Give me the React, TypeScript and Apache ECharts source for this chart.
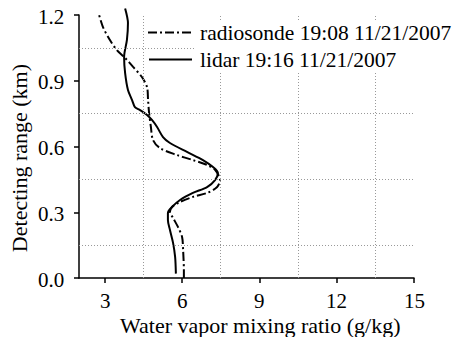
import React, { useEffect, useRef } from "react";
import * as echarts from "echarts";

const xTicks = [3, 6, 9, 12, 15];
const yTicks = [0, 0.3, 0.6, 0.9, 1.2];
const xGrid = [4.5, 7.5, 10.5, 13.5];
const yGrid = [0.15, 0.45, 0.75, 1.05];

const xTitle = "Water vapor mixing ratio (g/kg)";
const yTitle = "Detecting range (km)";
const radiosondeName = "radiosonde 19:08 11/21/2007";
const lidarName = "lidar 19:16 11/21/2007";

// [mixing ratio g/kg, height km]
const radiosonde: [number, number][] = [
  [6.07, 0.0], [6.07, 0.03], [6.04, 0.128], [6.0, 0.187], [5.84, 0.233], [5.65, 0.274],
  [5.53, 0.301], [5.61, 0.324], [5.92, 0.347], [6.42, 0.37], [6.97, 0.388],
  [7.36, 0.415], [7.47, 0.447], [7.28, 0.493], [6.97, 0.516], [6.42, 0.538],
  [5.8, 0.561], [5.14, 0.593], [4.87, 0.63], [4.79, 0.689], [4.72, 0.753],
  [4.68, 0.812], [4.64, 0.871], [4.44, 0.917], [4.1, 0.963], [3.79, 1.004],
  [3.47, 1.04], [3.2, 1.086], [2.93, 1.145], [2.78, 1.2],
];

const lidar: [number, number][] = [
  [5.76, 0.02], [5.73, 0.096], [5.65, 0.16], [5.53, 0.219], [5.45, 0.265],
  [5.45, 0.297], [5.61, 0.324], [5.92, 0.356], [6.42, 0.388], [6.97, 0.415],
  [7.28, 0.447], [7.39, 0.479], [7.2, 0.506], [6.81, 0.538], [6.19, 0.575],
  [5.53, 0.616], [5.26, 0.643], [5.03, 0.689], [4.83, 0.721], [4.64, 0.744],
  [4.37, 0.766], [4.17, 0.78], [4.06, 0.812], [3.9, 0.858], [3.79, 0.935],
  [3.75, 1.008], [3.86, 1.086], [3.9, 1.163], [3.79, 1.23],
];

const FONT = "Liberation Serif";
const DASHDOT = [9, 3, 2, 3];
const X_MIN = 2, X_MAX = 15, Y_MIN = 0, Y_MAX = 1.2;
const W = 455, H = 337;
const GRID = { left: 79, right: 41, top: 15, bottom: 59 };

let measureCtx: CanvasRenderingContext2D | null = null;
function textWidth(t: string, size: number) {
  if (!measureCtx) measureCtx = document.createElement("canvas").getContext("2d");
  if (!measureCtx) return t.length * size * 0.5;
  measureCtx.font = size + "px " + FONT;
  return measureCtx.measureText(t).width;
}

export default function App() {
  const ref = useRef<HTMLDivElement>(null);
  useEffect(() => {
    if (!ref.current) return;
    const chart = echarts.init(ref.current, undefined, { renderer: "svg" });
    const gridLine = { color: "#999", width: 1, type: [1, 2] as number[] };

    // same linear mapping as the value axes (used only to place label texts)
    const gx0 = GRID.left, gx1 = W - GRID.right, gy0 = H - GRID.bottom, gy1 = GRID.top;
    const px = (v: number) => gx0 + ((v - X_MIN) / (X_MAX - X_MIN)) * (gx1 - gx0);
    const py = (v: number) => gy0 - ((v - Y_MIN) / (Y_MAX - Y_MIN)) * (gy0 - gy1);

    const label = (t: string, cx: number, cy: number, size: number, anchor: "left" | "right" | "center") => {
      const w = textWidth(t, size);
      const left = anchor === "left" ? cx : anchor === "right" ? cx - w : cx - w / 2;
      return {
        type: "text",
        left: Math.round(left),
        top: Math.round(cy - size / 2),
        style: { text: t, fontFamily: FONT, fontSize: size, fill: "#000" },
      };
    };

    const graphic: any[] = [];
    yTicks.forEach((v) => graphic.push(label(v.toFixed(1), gx0 - 15, py(v) + 1, 21, "right")));
    xTicks.forEach((v) => graphic.push(label(String(v), px(v), gy0 + 22, 21, "center")));
    graphic.push(label(xTitle, (gx0 + gx1) / 2 + 14, gy0 + 47, 22, "center"));
    const yw = textWidth(yTitle, 22);
    graphic.push({
      type: "text",
      left: 8,
      top: Math.round((gy0 + gy1) / 2 + 12 - yw / 2),
      rotation: Math.PI / 2,
      style: { text: yTitle, fontFamily: FONT, fontSize: 22, fill: "#000" },
    });
    // legend
    graphic.push({ type: "rect", z: 15, silent: true, shape: { x: 194, y: 21, width: 250, height: 51 }, style: { fill: "#fff" } });
    graphic.push({ type: "line", z: 20, silent: true, shape: { x1: 148, y1: 32.5, x2: 192, y2: 32.5 }, style: { stroke: "#000", lineWidth: 2, lineDash: DASHDOT } });
    graphic.push({ type: "line", z: 20, silent: true, shape: { x1: 149, y1: 59.5, x2: 192, y2: 59.5 }, style: { stroke: "#000", lineWidth: 2 } });
    const l1 = label(radiosondeName, 200, 33, 21.5, "left");
    const l2 = label(lidarName, 200, 60, 21.5, "left");
    (l1 as any).z = 20;
    (l2 as any).z = 20;
    graphic.push(l1, l2);

    chart.setOption({
      animation: false,
      backgroundColor: "#fff",
      grid: GRID,
      xAxis: {
        type: "value",
        min: X_MIN,
        max: X_MAX,
        axisLine: { lineStyle: { color: "#000", width: 1.5 } },
        axisTick: { customValues: xTicks, length: 5, lineStyle: { color: "#000", width: 1.5 } },
        axisLabel: { show: false },
        splitLine: { show: false },
      },
      yAxis: {
        type: "value",
        min: Y_MIN,
        max: Y_MAX,
        interval: 0.3,
        axisLine: { show: true, lineStyle: { color: "#000", width: 1.5 } },
        axisTick: { show: true, length: 5, lineStyle: { color: "#000", width: 1.5 } },
        axisLabel: { show: false },
        splitLine: { show: false },
      },
      graphic,
      series: [
        {
          type: "line",
          name: "grid",
          data: [],
          silent: true,
          z: 1,
          markLine: {
            silent: true,
            symbol: "none",
            label: { show: false },
            lineStyle: gridLine,
            data: [
              ...xGrid.map((x) => ({ xAxis: x })),
              ...yGrid.map((y) => ({ yAxis: y })),
            ],
          },
        },
        {
          type: "line",
          name: radiosondeName,
          data: radiosonde,
          symbol: "none",
          smooth: 0.3,
          clip: false,
          z: 3,
          lineStyle: { color: "#000", width: 2, type: DASHDOT },
        },
        {
          type: "line",
          name: lidarName,
          data: lidar,
          symbol: "none",
          smooth: 0.3,
          clip: false,
          z: 3,
          lineStyle: { color: "#000", width: 2, type: "solid" },
        },
      ],
    });
    return () => chart.dispose();
  }, []);
  return <div ref={ref} style={{ width: W, height: H, position: "absolute", left: 0, top: 0 }} />;
}
